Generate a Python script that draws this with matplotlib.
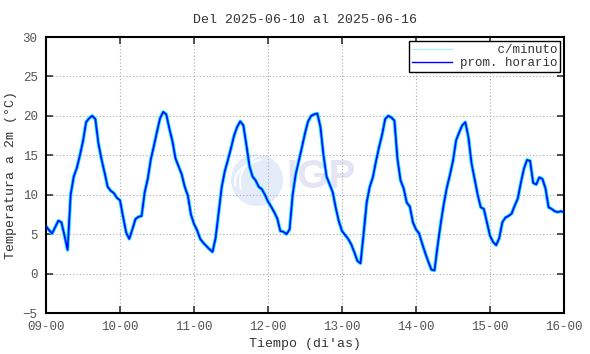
import numpy as np
import matplotlib
matplotlib.use("Agg")
import matplotlib.pyplot as plt
from matplotlib.patches import Ellipse, Arc

# Hourly mean 2 m temperature (°C), 09-00 .. 16-00, one value per hour
temp_horaria = [
    6.0, 5.5, 5.1, 5.9, 6.7, 6.5, 4.8, 3.0, 10.0, 12.3, 13.4, 15.0,
    16.8, 19.2, 19.7, 20.0, 19.6, 16.5, 14.5, 12.8, 11.0, 10.5, 10.2, 9.6,
    9.3, 7.2, 5.2, 4.4, 5.6, 6.9, 7.2, 7.3, 10.3, 12.0, 14.5, 16.2,
    18.0, 19.7, 20.5, 20.2, 18.4, 16.8, 14.6, 13.6, 12.6, 11.0, 9.9, 7.5,
    6.3, 5.5, 4.4, 3.9, 3.5, 3.1, 2.75, 4.5, 7.8, 11.0, 13.0, 14.4,
    15.9, 17.5, 18.6, 19.3, 18.8, 16.3, 13.6, 12.3, 11.8, 11.0, 10.7, 10.0,
    9.15, 8.5, 7.8, 7.0, 5.4, 5.3, 5.0, 5.6, 10.0, 12.6, 14.3, 16.0,
    17.8, 19.3, 20.0, 20.2, 20.3, 18.6, 15.0, 12.3, 11.3, 10.3, 8.3, 6.6,
    5.4, 4.9, 4.4, 3.7, 2.7, 1.6, 1.3, 5.0, 9.0, 11.0, 12.2, 14.2,
    16.0, 17.6, 19.6, 20.0, 19.8, 19.4, 14.5, 11.8, 10.8, 9.0, 8.5, 6.5,
    5.6, 5.1, 3.8, 2.6, 1.5, 0.5, 0.4, 3.5, 6.3, 8.8, 10.9, 12.5,
    14.3, 16.9, 17.9, 18.8, 19.2, 17.3, 14.0, 12.0, 10.0, 8.4, 8.2, 6.5,
    4.8, 4.0, 3.6, 4.5, 6.5, 7.1, 7.3, 7.6, 8.6, 9.5, 11.5, 13.3,
    14.4, 14.3, 11.5, 11.3, 12.2, 12.0, 10.8, 8.4, 8.2, 7.9, 7.8, 7.9,
    7.8,
]
tick_labels = ["09-00", "10-00", "11-00", "12-00", "13-00", "14-00", "15-00", "16-00"]
y_ticks = [-5, 0, 5, 10, 15, 20, 25, 30]

horas = np.arange(len(temp_horaria))
x_ticks = np.arange(len(tick_labels)) * 24

mono = "Liberation Mono"
gris = "#555555"

fig = plt.figure(figsize=(5.9, 3.54), dpi=100)
ax = fig.add_axes([46 / 590, 1 - 313 / 354, (564 - 46) / 590, (313 - 37) / 354])
ax.set_axisbelow(True)

# watermark (IGP logo), kept behind the data
tf = fig.transFigure
ax.add_patch(Ellipse((257 / 590, 1 - 180 / 354), 52 / 590, 52 / 354, transform=tf,
                     facecolor="#e4ebf9", edgecolor="none", zorder=0.3, clip_on=False))
for w, h, t1, t2 in [(70, 60, 100, 200), (80, 48, 110, 190), (60, 90, 30, 110)]:
    ax.add_patch(Arc((275 / 590, 1 - 182 / 354), w / 590, h / 354, theta1=t1, theta2=t2,
                     transform=tf, color="white", lw=1.5, zorder=0.4, clip_on=False))
ax.text(286 / 590, 1 - 177 / 354, "IGP", fontsize=29, fontweight="bold", transform=tf,
        family="Liberation Sans", color="#e4e4f5", ha="left", va="center", zorder=0.5)

# the per-minute trace is drawn as a cyan halo round the hourly mean
ax.plot(horas, temp_horaria, color="#00e8ff", lw=2.5, label="     c/minuto", zorder=2)
ax.plot(horas, temp_horaria, color="#0000ff", lw=1.2, label="prom. horario", zorder=3)

ax.set_xlim(0, 168)
ax.set_ylim(-5, 30)
ax.set_xticks(x_ticks)
ax.set_xticklabels(tick_labels)
ax.set_yticks(y_ticks)
ax.grid(True, color="#aaaaaa", linestyle=(0, (1, 2)), lw=0.8)
ax.tick_params(direction="in", length=5, width=1.2, color="#333333",
               top=True, right=True, labelcolor=gris, labelsize=9, pad=6)
for lab in ax.get_xticklabels() + ax.get_yticklabels():
    lab.set_family(mono)
for s in ax.spines.values():
    s.set_linewidth(1.5)

ax.set_title("Del 2025-06-10 al 2025-06-16", family=mono, fontsize=9.5, color="#333333", pad=10)
ax.set_xlabel("Tiempo (di'as)", family=mono, fontsize=9.5, color="#333333", labelpad=3)
ax.set_ylabel("Temperatura a 2m (°C)", family=mono, fontsize=9.5, color="#333333", labelpad=4)

leg = ax.legend(loc="upper right", prop={"family": mono, "size": 9}, handlelength=3.2,
                handletextpad=0.6, borderpad=0.25, labelspacing=0.1, fancybox=False,
                framealpha=1, edgecolor="black", borderaxespad=0.3)
leg.get_frame().set_linewidth(1.0)
for line in leg.get_lines():
    line.set_linewidth(1.0)
leg.get_lines()[0].set_color("#aef0f5")
for t in leg.get_texts():
    t.set_color("#333333")

fig.savefig("out.png", dpi=100)
